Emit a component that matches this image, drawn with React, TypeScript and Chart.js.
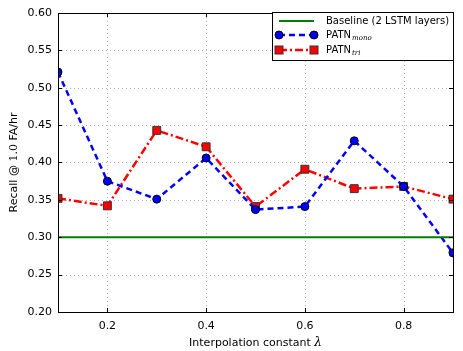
import React, { useEffect, useRef } from "react";
import { Chart, registerables } from "chart.js";

Chart.register(...registerables);

const lambdas = [0.1, 0.2, 0.3, 0.4, 0.5, 0.6, 0.7, 0.8, 0.9];
const patnMono = [0.521, 0.375, 0.351, 0.406, 0.337, 0.341, 0.429, 0.368, 0.279];
const patnTri = [0.352, 0.342, 0.443, 0.421, 0.341, 0.391, 0.365, 0.368, 0.351];
const baselineValue = 0.3;
const xTickValues = [0.2, 0.4, 0.6, 0.8];
const yTickValues = [0.2, 0.25, 0.3, 0.35, 0.4, 0.45, 0.5, 0.55, 0.6];

const FONT = "'DejaVu Sans', sans-serif";

const decorPlugin = {
  id: "decor",
  beforeDatasetsDraw(chart: any) {
    const { ctx, chartArea: a, scales } = chart;
    const x = scales.x, y = scales.y;
    ctx.save();
    ctx.strokeStyle = "#b0b0b0";
    ctx.lineWidth = 1;
    ctx.setLineDash([1, 3]);
    xTickValues.forEach((v) => {
      const px = Math.round(x.getPixelForValue(v)) + 0.5;
      ctx.beginPath();
      ctx.moveTo(px, a.top);
      ctx.lineTo(px, a.bottom);
      ctx.stroke();
    });
    yTickValues.forEach((v) => {
      const py = Math.round(y.getPixelForValue(v)) + 0.5;
      ctx.beginPath();
      ctx.moveTo(a.left, py);
      ctx.lineTo(a.right, py);
      ctx.stroke();
    });
    ctx.restore();
  },
  afterDatasetsDraw(chart: any) {
    const { ctx, chartArea: a, scales } = chart;
    const x = scales.x, y = scales.y;
    ctx.save();
    // frame
    ctx.strokeStyle = "#000";
    ctx.lineWidth = 1;
    ctx.setLineDash([]);
    ctx.strokeRect(Math.round(a.left) + 0.5, Math.round(a.top) + 0.5, Math.round(a.right - a.left), Math.round(a.bottom - a.top));
    // inner ticks
    xTickValues.forEach((v) => {
      const px = Math.round(x.getPixelForValue(v)) + 0.5;
      ctx.beginPath();
      ctx.moveTo(px, a.bottom);
      ctx.lineTo(px, a.bottom - 4);
      ctx.moveTo(px, a.top);
      ctx.lineTo(px, a.top + 4);
      ctx.stroke();
    });
    yTickValues.forEach((v) => {
      const py = Math.round(y.getPixelForValue(v)) + 0.5;
      ctx.beginPath();
      ctx.moveTo(a.left, py);
      ctx.lineTo(a.left + 4, py);
      ctx.moveTo(a.right, py);
      ctx.lineTo(a.right - 4, py);
      ctx.stroke();
    });

    // x title
    ctx.fillStyle = "#000";
    ctx.textBaseline = "middle";
    const xt1 = "Interpolation constant ";
    ctx.font = `11px ${FONT}`;
    const w1 = ctx.measureText(xt1).width;
    ctx.font = `italic 12px 'DejaVu Serif', serif`;
    const w2 = ctx.measureText("λ").width;
    const cx = (a.left + a.right) / 2;
    const sx = cx - (w1 + w2) / 2;
    ctx.font = `11px ${FONT}`;
    ctx.textAlign = "left";
    ctx.fillText(xt1, sx, 343);
    ctx.font = `italic 12px 'DejaVu Serif', serif`;
    ctx.fillText("λ", sx + w1, 343);

    // y title
    ctx.save();
    ctx.translate(14, (a.top + a.bottom) / 2);
    ctx.rotate(-Math.PI / 2);
    const parts = [
      { t: "Recall @ ", f: `11px ${FONT}` },
      { t: "1.0", f: `11px 'DejaVu Serif', serif` },
      { t: " FA/hr", f: `11px ${FONT}` },
    ];
    let total = 0;
    parts.forEach((p) => { ctx.font = p.f; total += ctx.measureText(p.t).width; });
    let px0 = -total / 2;
    parts.forEach((p) => {
      ctx.font = p.f;
      ctx.fillText(p.t, px0, 0);
      px0 += ctx.measureText(p.t).width;
    });
    ctx.restore();

    // legend
    const lx = 272.5, ly = 12.5, lw = Math.round(a.right) - 272, lh = 48;
    ctx.fillStyle = "#fff";
    ctx.fillRect(lx, ly, lw, lh);
    ctx.strokeStyle = "#000";
    ctx.lineWidth = 1;
    ctx.strokeRect(lx, ly, lw, lh);
    const sx0 = 279, sx1 = 314, tx = 326;
    const rows = [21, 35, 50];
    // baseline
    ctx.strokeStyle = "#008000";
    ctx.lineWidth = 2;
    ctx.beginPath(); ctx.moveTo(sx0, rows[0]); ctx.lineTo(sx1, rows[0]); ctx.stroke();
    // mono
    ctx.strokeStyle = "#0000ff";
    ctx.lineWidth = 2.5;
    ctx.setLineDash([6, 4]);
    ctx.beginPath(); ctx.moveTo(sx0, rows[1]); ctx.lineTo(sx1, rows[1]); ctx.stroke();
    ctx.setLineDash([]);
    ctx.lineWidth = 1;
    ctx.strokeStyle = "#000";
    ctx.fillStyle = "#0000ff";
    [sx0, sx1].forEach((p) => { ctx.beginPath(); ctx.arc(p, rows[1], 4, 0, Math.PI * 2); ctx.fill(); ctx.stroke(); });
    // tri
    ctx.strokeStyle = "#ff0000";
    ctx.lineWidth = 2.5;
    ctx.setLineDash([8, 3, 2, 3]);
    ctx.beginPath(); ctx.moveTo(sx0, rows[2]); ctx.lineTo(sx1, rows[2]); ctx.stroke();
    ctx.setLineDash([]);
    ctx.lineWidth = 1;
    ctx.strokeStyle = "#333";
    ctx.fillStyle = "#ff0000";
    [sx0, sx1].forEach((p) => { ctx.fillRect(p - 4, rows[2] - 4, 8, 8); ctx.strokeRect(p - 4, rows[2] - 4, 8, 8); });
    // texts
    ctx.fillStyle = "#000";
    ctx.textAlign = "left";
    ctx.textBaseline = "middle";
    ctx.font = `10px ${FONT}`;
    ctx.fillText("Baseline (2 LSTM layers)", tx, rows[0]);
    const subs = ["mono", "tri"];
    [rows[1], rows[2]].forEach((ry, i) => {
      ctx.font = `10px ${FONT}`;
      ctx.fillText("PATN", tx, ry);
      const w = ctx.measureText("PATN").width;
      ctx.font = `italic 7px 'DejaVu Serif', serif`;
      ctx.fillText(subs[i], tx + w + 1, ry + 3);
    });
    ctx.restore();
  },
};

export default function App() {
  const ref = useRef<HTMLCanvasElement | null>(null);
  useEffect(() => {
    document.body.style.margin = "0";
    const canvas = ref.current!;
    const chart = new Chart(canvas, {
      type: "line",
      data: {
        labels: lambdas,
        datasets: [
          {
            label: "Baseline (2 LSTM layers)",
            data: [lambdas[0], lambdas[lambdas.length - 1]].map((l) => ({ x: l, y: baselineValue })),
            borderColor: "#008000",
            borderWidth: 2,
            pointRadius: 0,
            fill: false,
          },
          {
            label: "PATN mono",
            data: lambdas.map((l, i) => ({ x: l, y: patnMono[i] })),
            borderColor: "#0000ff",
            borderWidth: 2.5,
            borderDash: [6, 4],
            pointStyle: "circle",
            pointRadius: 4,
            pointBackgroundColor: "#0000ff",
            pointBorderColor: "#000",
            pointBorderWidth: 1,
            fill: false,
          },
          {
            label: "PATN tri",
            data: lambdas.map((l, i) => ({ x: l, y: patnTri[i] })),
            borderColor: "#ff0000",
            borderWidth: 2.5,
            borderDash: [8, 3, 2, 3],
            pointStyle: "rect",
            pointRadius: 5.6,
            pointBackgroundColor: "#ff0000",
            pointBorderColor: "#333",
            pointBorderWidth: 1,
            fill: false,
          },
        ] as any,
      },
      options: {
        animation: false,
        responsive: false,
        layout: { padding: { top: 13, right: 10, left: 0, bottom: 0 } },
        plugins: { legend: { display: false }, tooltip: { enabled: false } },
        scales: {
          x: {
            type: "linear",
            min: 0.1,
            max: 0.9,
            grid: { display: false, drawTicks: false, tickLength: 0 },
            border: { display: false },
            ticks: {
              padding: 8,
              color: "#000",
              font: { family: FONT, size: 11 },
              callback: (v: any) => Number(v).toFixed(1),
              maxRotation: 0,
            },
            afterBuildTicks: (s: any) => { s.ticks = xTickValues.map((v) => ({ value: v })); },
            afterFit: (s: any) => { s.height = 39; },
          },
          y: {
            type: "linear",
            min: 0.2,
            max: 0.6,
            grid: { display: false, drawTicks: false, tickLength: 0 },
            border: { display: false },
            ticks: {
              padding: 6,
              color: "#000",
              font: { family: FONT, size: 11 },
              callback: (v: any) => Number(v).toFixed(2),
            },
            afterBuildTicks: (s: any) => { s.ticks = yTickValues.map((v) => ({ value: v })); },
            afterFit: (s: any) => { s.width = 58; },
          },
        },
      } as any,
      plugins: [decorPlugin],
    });
    return () => chart.destroy();
  }, []);
  return (
    <div style={{ width: 463, height: 351 }}>
      <canvas ref={ref} width={463} height={351} style={{ display: "block" }} />
    </div>
  );
}
